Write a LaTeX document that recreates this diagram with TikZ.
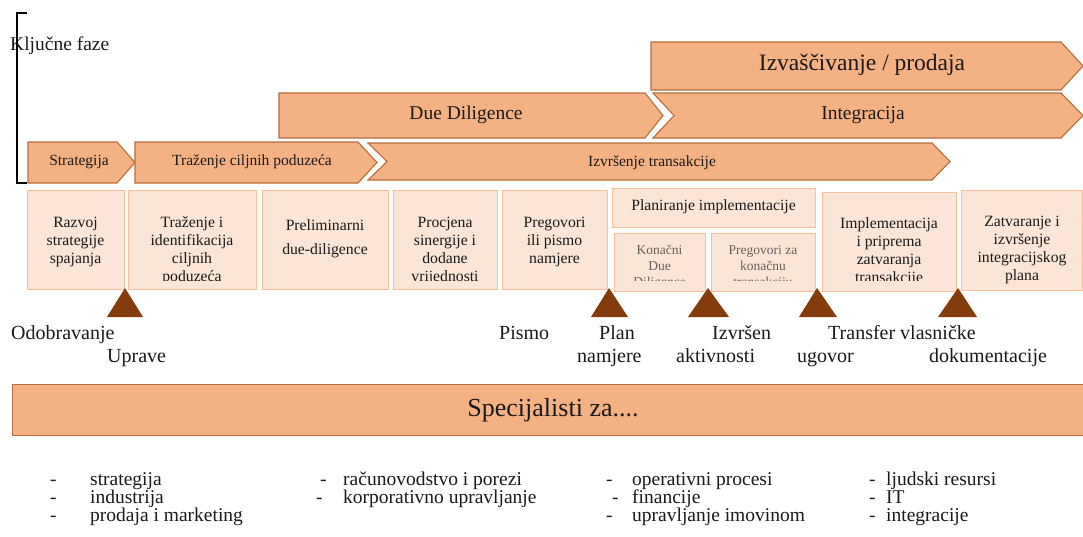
\documentclass[tikz,border=0pt]{standalone}
\usepackage{fontspec}
\setmainfont{Liberation Serif}
\definecolor{chevfill}{HTML}{F4B183}
\definecolor{chevline}{HTML}{B86C3C}
\definecolor{boxfill}{HTML}{FBE5D6}
\definecolor{boxline}{HTML}{F6C09A}
\definecolor{tricol}{HTML}{843C0C}
\definecolor{txt}{HTML}{1A1A1A}
\definecolor{greytxt}{HTML}{6E5E58}
\begin{document}
\begin{tikzpicture}[x=1pt,y=-1pt,
  chev/.style={fill=chevfill, draw=chevline, line width=1.1pt},
  cbox/.style={fill=boxfill, draw=boxline, line width=1.4pt, anchor=north west, inner sep=0},
  tri/.style={fill=tricol, draw=none},
  ctext/.style={inner sep=0, anchor=base, text=txt},
  btext/.style={inner sep=0, anchor=north, align=center, text=txt, font=\fontsize{15.7}{18}\selectfont},
  stext/.style={inner sep=0, anchor=north, align=center, text=greytxt, font=\fontsize{13.5}{16}\selectfont},
  lbl/.style={inner sep=0, anchor=base west, text=txt, font=\fontsize{20}{23}\selectfont},
  bul/.style={inner sep=0, anchor=base west, text=txt, font=\fontsize{19.5}{18}\selectfont}]
\useasboundingbox[fill=white] (0,0) rectangle (1083,536);

% title and bracket
\node[lbl, font=\fontsize{19.5}{22}\selectfont] (title) at (10,50) {Ključne faze};
\draw[line width=2.3pt] (27,13) -- (17,13) -- (17,183) -- (27,183);

% chevrons
\draw[chev] (651,42) -- (1061,42) -- (1083,66) -- (1061,90) -- (651,90) -- cycle;
\node[ctext, font=\fontsize{23.5}{26}\selectfont] (izv) at (862,70) {Izvaščivanje / prodaja};

\draw[chev] (279,93) -- (645,93) -- (663,115.5) -- (645,138) -- (279,138) -- cycle;
\node[ctext, font=\fontsize{19.5}{22}\selectfont] (dd) at (466,119) {Due Diligence};

\draw[chev] (653,93) -- (1061,93) -- (1083,115.5) -- (1061,138) -- (653,138) -- (674,115.5) -- cycle;
\node[ctext, font=\fontsize{19.5}{22}\selectfont] (integ) at (863,119) {Integracija};

\draw[chev] (28,142) -- (117,142) -- (135,162.5) -- (117,183) -- (28,183) -- cycle;
\node[ctext, font=\fontsize{15.5}{18}\selectfont] (strat) at (79,165.5) {Strategija};

\draw[chev] (135,142) -- (358,142) -- (377,162.5) -- (358,183) -- (135,183) -- cycle;
\node[ctext, font=\fontsize{15.5}{18}\selectfont] (traz) at (252,165.5) {Traženje ciljnih poduzeća};

\draw[chev] (368,143) -- (932,143) -- (950,161.5) -- (932,180) -- (368,180) -- (387,161.5) -- cycle;
\node[ctext, font=\fontsize{15.5}{18}\selectfont] (izvr) at (652,166) {Izvršenje transakcije};

% activity boxes
\node[cbox, minimum width=97, minimum height=99] (b1) at (27,190) {};
\begin{scope}\clip (27,190) rectangle (124,280);
\node[btext] (t1) at (75.5,216) {\rule{0pt}{11pt}Razvoj\\strategije\\spajanja};
\end{scope}
\node[cbox, minimum width=128, minimum height=99] (b2) at (128,190) {};
\begin{scope}\clip (128,190) rectangle (256,280);
\node[btext] (t2) at (192,216) {\rule{0pt}{11pt}Traženje i\\identifikacija\\ciljnih\\poduzeća};
\end{scope}
\node[cbox, minimum width=126, minimum height=99] (b3) at (262,190) {};
\node[btext, font=\fontsize{15.7}{24}\selectfont] (t3) at (325,219) {\rule{0pt}{11pt}Preliminarni\\due-diligence};
\node[cbox, minimum width=104, minimum height=99] (b4) at (393,190) {};
\begin{scope}\clip (393,190) rectangle (497,280);
\node[btext] (t4) at (445,216) {\rule{0pt}{11pt}Procjena\\sinergije i\\dodane\\vrijednosti};
\end{scope}
\node[cbox, minimum width=105, minimum height=99] (b5) at (502,190) {};
\node[btext] (t5) at (554.5,216) {\rule{0pt}{11pt}Pregovori\\ili pismo\\namjere};
\node[cbox, minimum width=203, minimum height=39] (b6) at (612,188) {};
\node[ctext, font=\fontsize{15.7}{18}\selectfont] (t6) at (713.5,210) {Planiranje implementacije};
\node[cbox, minimum width=91, minimum height=58] (b7) at (614,233) {};
\begin{scope}\clip (614,233) rectangle (705,280);
\node[stext] (t7) at (659.5,244) {\rule{0pt}{10pt}Konačni\\Due\\Diligence};
\end{scope}
\node[cbox, minimum width=104, minimum height=58] (b8) at (711,233) {};
\begin{scope}\clip (711,233) rectangle (815,280);
\node[stext] (t8) at (763,244) {\rule{0pt}{10pt}Pregovori za\\konačnu\\transakciju};
\end{scope}
\node[cbox, minimum width=134, minimum height=99] (b9) at (822,192) {};
\begin{scope}\clip (822,192) rectangle (956,280);
\node[btext] (t9) at (889,217) {\rule{0pt}{11pt}Implementacija\\i priprema\\zatvaranja\\transakcije};
\end{scope}
\node[cbox, minimum width=121, minimum height=100] (b10) at (961,190) {};
\begin{scope}\clip (961,190) rectangle (1082,283);
\node[btext] (t10) at (1022,215) {\rule{0pt}{11pt}Zatvaranje i\\izvršenje\\integracijskog\\plana};
\end{scope}

% milestone triangles
\fill[tri] (125,288) -- (143,317) -- (107,317) -- cycle;
\fill[tri] (609,288) -- (628,317) -- (591,317) -- cycle;
\fill[tri] (708,288) -- (729,317) -- (688,317) -- cycle;
\fill[tri] (817,288) -- (837,317) -- (799,317) -- cycle;
\fill[tri] (958,288) -- (977,317) -- (938,317) -- cycle;

% milestone labels
\node[lbl] (m1) at (11,339) {Odobravanje};
\node[lbl] (m2) at (107,362) {Uprave};
\node[lbl] (m3) at (499,339) {Pismo};
\node[lbl] (m4) at (599,339) {Plan};
\node[lbl] (m5) at (577,362) {namjere};
\node[lbl] (m6) at (712,339) {Izvršen};
\node[lbl] (m7) at (676,362) {aktivnosti};
\node[lbl] (m8) at (828,339) {Transfer vlasničke};
\node[lbl] (m9) at (797,362) {ugovor};
\node[lbl] (m10) at (929,362) {dokumentacije};

% specialists bar
\node[fill=chevfill, draw=chevline, line width=1.3pt, anchor=north west, inner sep=0,
      minimum width=1085, minimum height=51] (bar) at (12,384) {};
\node[ctext, font=\fontsize{26}{30}\selectfont] (spec) at (553,416) {Specijalisti za....};

% bullet lists
\foreach \dx/\tx/\yy/\lab [count=\i] in {
  50/90/485/strategija, 50/90/503/industrija, 50/90/521/prodaja i marketing,
  320/343/485/računovodstvo i porezi, 316/343/503/korporativno upravljanje,
  606/632/485/operativni procesi, 612/632/503/financije, 606/632/521/upravljanje imovinom,
  869/886/485/ljudski resursi, 869/886/503/IT, 869/886/521/integracije}{
  \node[bul] (d\i) at (\dx,\yy) {-};
  \node[bul] (l\i) at (\tx,\yy) {\lab};
}
\end{tikzpicture}
\end{document}
